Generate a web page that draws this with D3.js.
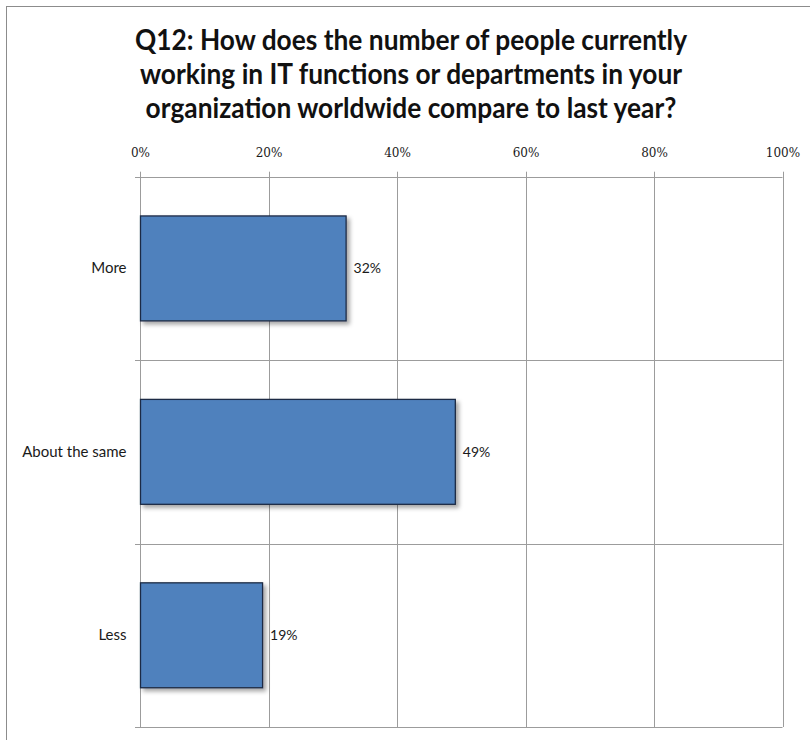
<!DOCTYPE html>
<html>
<head>
<meta charset="utf-8">
<script src="https://cdn.jsdelivr.net/npm/d3@7"></script>
<style>
  html, body { margin: 0; padding: 0; background: #fff; }
  svg { display: block; }
</style>
</head>
<body>
<svg id="chart" width="810" height="740"></svg>
<script>
// ---- data ----
const titleLines = [
  "Q12: How does the number of people currently",
  "working in IT functions or departments in your",
  "organization worldwide compare to last year?"
];
const categories = ["More", "About the same", "Less"];
const values = [32, 49, 19];
const tickValues = [0, 20, 40, 60, 80, 100];
const tickLabels = ["0%", "20%", "40%", "60%", "80%", "100%"];
const valueLabels = ["32%", "49%", "19%"];

// ---- layout ----
const W = 810, H = 740;
const plot = { left: 140, right: 782.5, top: 176.7, bottom: 727 };
const gridColor = "#9c9c9c";

const svg = d3.select("#chart");

// drop shadow filter
const defs = svg.append("defs");
const f = defs.append("filter").attr("id", "shadow").attr("x", "-10%").attr("y", "-10%").attr("width", "130%").attr("height", "130%");
f.append("feDropShadow").attr("dx", 3).attr("dy", 3).attr("stdDeviation", 2)
  .attr("flood-color", "#000").attr("flood-opacity", 0.35);

// outer frame
svg.append("rect").attr("x", 6.5).attr("y", 6.5).attr("width", W + 20).attr("height", H + 20)
  .attr("fill", "#fff").attr("stroke", "#8c8c8c").attr("stroke-width", 1);

// title
const titleBaselines = [49.5, 84, 118];
const title = svg.append("g");
const titleText = title.selectAll("text").data(titleLines).join("text")
  .attr("transform", (d, i) => `translate(411,${titleBaselines[i]}) scale(1,1.12)`)
  .attr("text-anchor", "middle")
  .style("font-family", "Lato, 'Open Sans', sans-serif")
  .style("font-weight", "bold")
  .style("font-size", "22px")
  .attr("fill", "#111")
  .text(d => d);
// fit first line to the reference width
const w0 = titleText.node().getComputedTextLength();
const fs = 22 * 552 / w0;
titleText.style("font-size", fs + "px");

// scales
const x = d3.scaleLinear().domain([0, 100]).range([plot.left, plot.right]);
const yb = d3.scaleBand().domain(categories).range([plot.top, plot.bottom]).padding(0);
const step = yb.step();
const barH = step * 0.572;

// vertical gridlines
svg.append("g").selectAll("line").data(tickValues).join("line")
  .attr("x1", d => Math.round(x(d)) + 0.5).attr("x2", d => Math.round(x(d)) + 0.5)
  .attr("y1", plot.top - 5).attr("y2", plot.bottom)
  .attr("stroke", gridColor).attr("stroke-width", 1);

// horizontal gridlines at category boundaries (incl. top & bottom), with left tick marks
const bounds = categories.map(c => yb(c)).concat([plot.bottom]);
svg.append("g").selectAll("line").data(bounds).join("line")
  .attr("x1", plot.left - 5).attr("x2", plot.right)
  .attr("y1", d => Math.round(d) + 0.5).attr("y2", d => Math.round(d) + 0.5)
  .attr("stroke", gridColor).attr("stroke-width", 1);

// top axis labels
const xAxis = d3.axisTop(x).tickValues(tickValues)
  .tickFormat((d, i) => tickLabels[i]).tickSize(0).tickPadding(20);
const gx = svg.append("g").attr("transform", `translate(0,${plot.top})`).call(xAxis);
gx.select(".domain").remove();
gx.selectAll("text")
  .style("font-family", "'DejaVu Serif', 'Liberation Serif', serif")
  .style("font-size", "12px")
  .attr("fill", "#1a1a1a");

// category labels
const yAxis = d3.axisLeft(yb).tickSize(0).tickPadding(13.5);
const gy = svg.append("g").attr("transform", `translate(${plot.left},0)`).call(yAxis);
gy.select(".domain").remove();
gy.selectAll("text")
  .style("font-family", "Lato, 'Open Sans', sans-serif")
  .style("font-size", "15px")
  .attr("fill", "#1a1a1a");

// bars
svg.append("g").selectAll("rect").data(categories).join("rect")
  .attr("x", x(0) + 0.5)
  .attr("y", c => yb(c) + (step - barH) / 2)
  .attr("width", (c, i) => x(values[i]) - x(0))
  .attr("height", barH)
  .attr("fill", "#4F81BD")
  .attr("stroke", "#1d2c45")
  .attr("stroke-width", 1.3)
  .attr("filter", "url(#shadow)");

// value labels
svg.append("g").selectAll("text").data(categories).join("text")
  .attr("x", (c, i) => x(values[i]) + 8)
  .attr("y", c => yb(c) + step / 2)
  .attr("dy", "0.35em")
  .style("font-family", "Lato, 'Open Sans', sans-serif")
  .style("font-size", "14px")
  .attr("fill", "#1a1a1a")
  .text((c, i) => valueLabels[i]);
</script>
</body>
</html>
